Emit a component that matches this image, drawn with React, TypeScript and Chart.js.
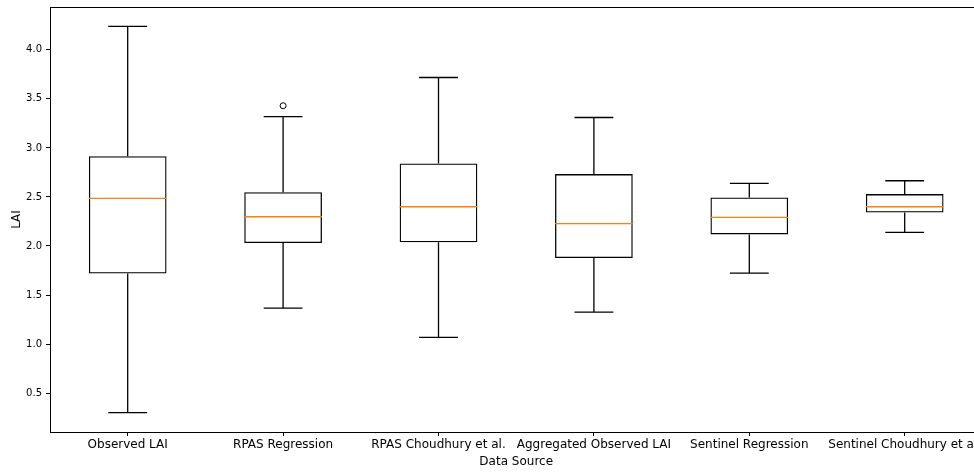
import React, { useEffect, useRef } from "react";
import { Chart, registerables } from "chart.js";

Chart.register(...registerables);

const categories = [
  "Observed LAI",
  "RPAS Regression",
  "RPAS Choudhury et al.",
  "Aggregated Observed LAI",
  "Sentinel Regression",
  "Sentinel Choudhury et al.",
];
const whiskerLow = [0.3, 1.367, 1.068, 1.326, 1.724, 2.139];
const q1 = [1.72, 2.03, 2.037, 1.877, 2.118, 2.342];
const median = [2.485, 2.298, 2.4, 2.227, 2.291, 2.4];
const q3 = [2.916, 2.549, 2.842, 2.733, 2.495, 2.529];
const whiskerHigh = [4.24, 3.32, 3.718, 3.31, 2.638, 2.665];
const outliers: (number | null)[] = [null, 3.43, null, null, null, null];
const yTicks = [0.5, 1.0, 1.5, 2.0, 2.5, 3.0, 3.5, 4.0];
const yMin = 0.103;
const yMax = 4.437;

const FONT = "'DejaVu Sans', sans-serif";
const LINE = "#000";
const MEDIAN = "#ff7f0e";

const boxPlugin = {
  id: "boxExtras",
  beforeDatasetsDraw(chart: any) {
    const ctx = chart.ctx;
    const x = chart.scales.x;
    const y = chart.scales.y;
    const meta = chart.getDatasetMeta(0);
    ctx.save();
    ctx.strokeStyle = LINE;
    ctx.lineWidth = 1.3;
    categories.forEach((_, i) => {
      const cx = x.getPixelForValue(i);
      const bw = meta.data[i].width;
      const capHalf = bw / 4;
      const yLo = y.getPixelForValue(whiskerLow[i]);
      const yQ1 = y.getPixelForValue(q1[i]);
      const yQ3 = y.getPixelForValue(q3[i]);
      const yHi = y.getPixelForValue(whiskerHigh[i]);
      ctx.beginPath();
      ctx.moveTo(cx, yQ1);
      ctx.lineTo(cx, yLo);
      ctx.moveTo(cx, yQ3);
      ctx.lineTo(cx, yHi);
      ctx.moveTo(cx - capHalf, yLo);
      ctx.lineTo(cx + capHalf, yLo);
      ctx.moveTo(cx - capHalf, yHi);
      ctx.lineTo(cx + capHalf, yHi);
      ctx.stroke();
    });
    ctx.restore();
  },
  afterDatasetsDraw(chart: any) {
    const ctx = chart.ctx;
    const x = chart.scales.x;
    const y = chart.scales.y;
    const meta = chart.getDatasetMeta(0);
    ctx.save();
    ctx.strokeStyle = MEDIAN;
    ctx.lineWidth = 1.3;
    categories.forEach((_, i) => {
      const cx = x.getPixelForValue(i);
      const bw = meta.data[i].width;
      const ym = y.getPixelForValue(median[i]);
      ctx.beginPath();
      ctx.moveTo(cx - bw / 2, ym);
      ctx.lineTo(cx + bw / 2, ym);
      ctx.stroke();
    });
    const a = chart.chartArea;
    ctx.strokeStyle = LINE;
    ctx.lineWidth = 1;
    ctx.strokeRect(
      Math.round(a.left) + 0.5,
      Math.round(a.top) + 0.5,
      Math.round(a.right - a.left),
      Math.round(a.bottom - a.top)
    );
    ctx.restore();
  },
};

export default function App() {
  const ref = useRef<HTMLCanvasElement | null>(null);

  useEffect(() => {
    if (!ref.current) return;
    const chart = new Chart(ref.current, {
      type: "bar",
      data: {
        labels: categories,
        datasets: [
          {
            type: "bar",
            data: q1.map((v, i) => [v, q3[i]]) as any,
            backgroundColor: "rgba(0,0,0,0)",
            borderColor: LINE,
            borderWidth: 1.3,
            borderSkipped: false,
            categoryPercentage: 1,
            barPercentage: 0.5,
          } as any,
          {
            type: "line",
            data: outliers as any,
            showLine: false,
            pointRadius: 3,
            pointBorderWidth: 1,
            pointBorderColor: LINE,
            pointBackgroundColor: "rgba(0,0,0,0)",
            pointHoverRadius: 3,
          } as any,
        ],
      },
      options: {
        responsive: false,
        animation: false,
        devicePixelRatio: 1,
        layout: { padding: { left: 0, top: 7, right: 17.6, bottom: 0 } },
        plugins: {
          legend: { display: false },
          tooltip: { enabled: false },
        },
        scales: {
          x: {
            type: "category",
            offset: true,
            border: { display: false },
            grid: {
              offset: false,
              drawOnChartArea: false,
              drawTicks: true,
              tickLength: 4,
              color: LINE,
            },
            ticks: {
              autoSkip: false,
              maxRotation: 0,
              minRotation: 0,
              padding: 2,
              color: "#000",
              font: { family: FONT, size: 12 },
            },
            title: {
              display: true,
              text: "Data Source",
              color: "#000",
              font: { family: FONT, size: 12 },
              padding: { top: 0, bottom: 3 },
            },
            afterFit: (s: any) => {
              s.height = 40;
              s.paddingLeft = 0;
              s.paddingRight = 0;
            },
          },
          y: {
            type: "linear",
            min: yMin,
            max: yMax,
            border: { display: false },
            grid: {
              drawOnChartArea: false,
              drawTicks: true,
              tickLength: 4,
              color: LINE,
            },
            ticks: {
              padding: 4,
              color: "#000",
              font: { family: FONT, size: 10 },
              callback: (v: any) => Number(v).toFixed(1),
            },
            afterBuildTicks: (s: any) => {
              s.ticks = yTicks.map((v) => ({ value: v }));
            },
            title: {
              display: true,
              text: "LAI",
              color: "#000",
              font: { family: FONT, size: 12 },
              padding: { top: 10, bottom: 0 },
            },
            afterFit: (s: any) => {
              s.width = 50;
              s.paddingTop = 0;
              s.paddingBottom = 0;
            },
          },
        },
      },
      plugins: [boxPlugin],
    });
    return () => chart.destroy();
  }, []);

  return (
    <div
      style={{
        position: "fixed",
        left: 0,
        top: 0,
        width: 974,
        height: 472,
        overflow: "hidden",
        background: "#fff",
      }}
    >
      <canvas ref={ref} width={1000} height={472} style={{ display: "block" }} />
    </div>
  );
}
